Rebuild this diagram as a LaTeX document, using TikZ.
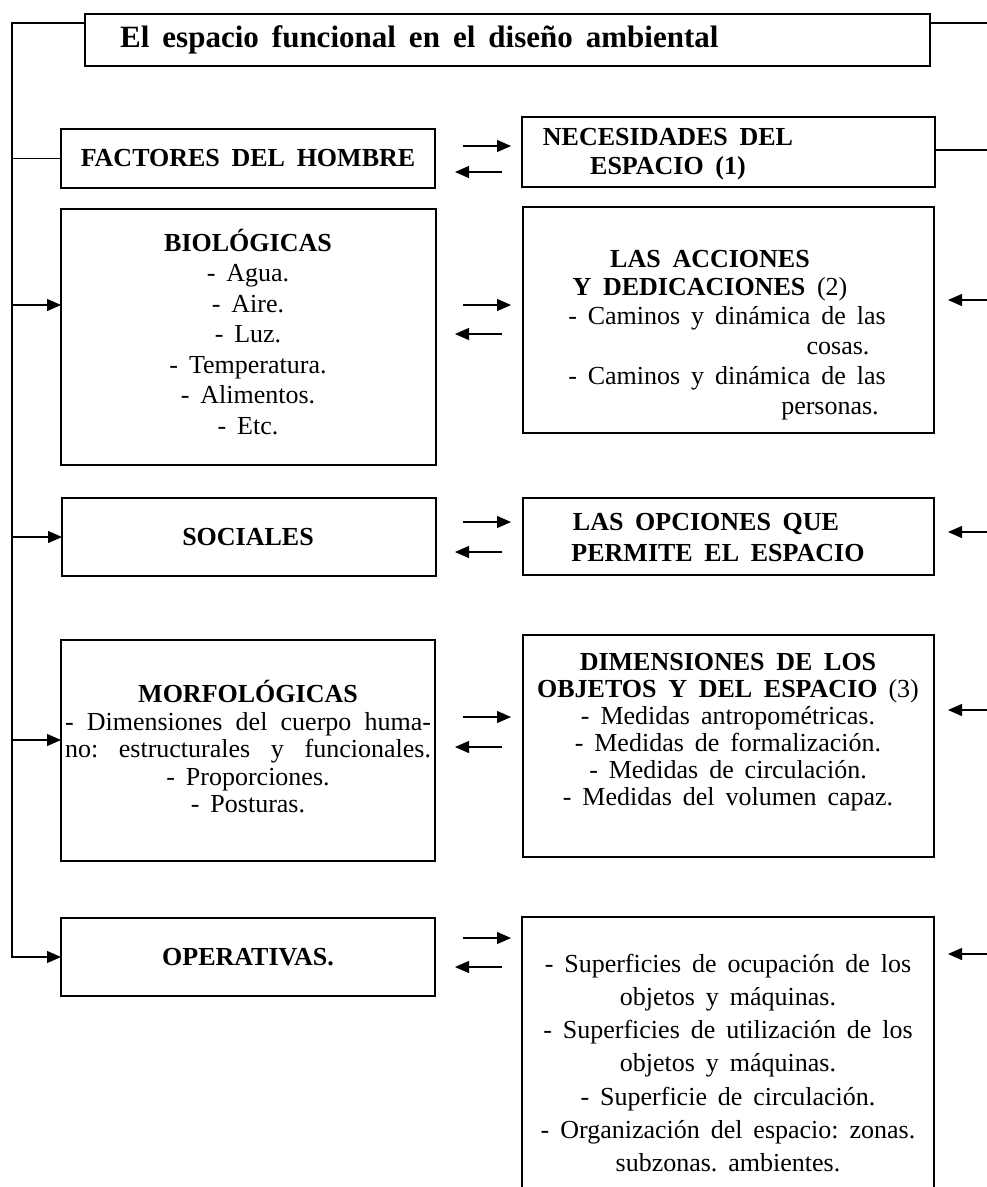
\documentclass[tikz,border=0pt]{standalone}
\usepackage{fontspec}
\setmainfont{Liberation Serif}
\usetikzlibrary{arrows.meta}
\newcommand\fb[1]{\fontsize{26}{#1}\selectfont\frenchspacing\spaceskip=0.42em plus 1em minus 0.1em\relax}
\newcommand\fh[1]{\fontsize{26}{#1}\bfseries\frenchspacing\spaceskip=0.45em plus 1em minus 0.1em\relax}
\newcommand\fhd{\bfseries\spaceskip=0.45em plus 1em minus 0.1em\relax}
\newcommand\ftitle{\fontsize{31}{34}\bfseries\spaceskip=0.42em plus 1em minus 0.1em\relax}
\begin{document}
\begin{tikzpicture}[x=1pt,y=-1pt,
  boxline/.style={draw, line width=1.4pt},
  box/.style={boxline, inner sep=0pt, outer sep=0pt, anchor=north west},
  conn/.style={line width=1.2pt},
  arr/.style={conn, -{Triangle[length=14pt,width=12pt]}},
  txt/.style={inner sep=0pt, align=center}]
\useasboundingbox (0,0) rectangle (987,1187);
% boxes
\node[box, minimum width=845pt, minimum height=52pt] (title) at (85,14) {};
\node[box, minimum width=374pt, minimum height=59pt] (fac) at (61,129) {};
\node[box, minimum width=413pt, minimum height=70pt] (nec) at (522,117) {};
\node[box, minimum width=375pt, minimum height=256pt] (bio) at (61,209) {};
\node[box, minimum width=411pt, minimum height=226pt] (acc) at (523,207) {};
\node[box, minimum width=374pt, minimum height=78pt] (soc) at (62,498) {};
\node[box, minimum width=411pt, minimum height=77pt] (opc) at (523,498) {};
\node[box, minimum width=374pt, minimum height=221pt] (morf) at (61,640) {};
\node[box, minimum width=411pt, minimum height=222pt] (dim) at (523,635) {};
\node[box, minimum width=374pt, minimum height=78pt] (oper) at (61,918) {};
\node[inner sep=0pt, outer sep=0pt, anchor=north west, minimum width=412pt, minimum height=280pt] (sup) at (522,917) {};
\draw[boxline] (sup.south west) |- (sup.north east) -- (sup.south east);
% texts
\node[txt, font=\ftitle, anchor=west] (titleT) at (120,40) {El espacio funcional en el diseño ambiental};
\node[txt, font=\fh{30}] (facT) at (248,158) {FACTORES DEL HOMBRE};
\node[txt, font=\fh{29}] (necT) at (668,154) {NECESIDADES DEL\\ESPACIO (1)};
\node[txt, font=\fb{30.5}] (bioT) at (248,332) {{\fhd BIOLÓGICAS}\\- Agua.\\- Aire.\\- Luz.\\- Temperatura.\\- Alimentos.\\- Etc.};
\node[txt, font=\fh{28}] (accH) at (710,276) {LAS ACCIONES\\Y DEDICACIONES {\mdseries (2)}};
\node[txt, font=\fb{30}] (accB) at (727,363) {- Caminos y dinámica de las\\\hspace*{222pt}cosas.\\- Caminos y dinámica de las\\\hspace*{206pt}personas.};
\node[txt, font=\fh{30}] (socT) at (248,537) {SOCIALES};
\node[txt, font=\fh{31}] (opcT) at (718,538) {LAS OPCIONES QUE\hspace*{24pt}\\PERMITE EL ESPACIO};
\node[txt, font=\fb{27.5}] (morfT) at (248,747) {{\fhd MORFOLÓGICAS}\\\makebox[366pt][s]{- Dimensiones del cuerpo huma-}\\\makebox[366pt][s]{no: estructurales y funcionales.}\\- Proporciones.\\- Posturas.};
\node[txt, font=\fb{27}] (dimT) at (728,732) {{\fhd DIMENSIONES DE LOS}\\{\fhd OBJETOS Y DEL ESPACIO} (3)\\- Medidas antropométricas.\\- Medidas de formalización.\\- Medidas de circulación.\\- Medidas del volumen capaz.};
\node[txt, font=\fh{30}] (operT) at (248,957) {OPERATIVAS.};
\node[txt, font=\fb{33.3}] (supT) at (728,1063) {- Superficies de ocupación de los\\objetos y máquinas.\\- Superficies de utilización de los\\objetos y máquinas.\\- Superficie de circulación.\\- Organización del espacio: zonas.\\subzonas. ambientes.};
% left spine
\coordinate (sTop) at (12,23);
\coordinate (sBio) at (12,305);
\coordinate (sMorf) at (12,740);
\draw[arr] (title.west |- sTop) -- (sTop) |- (oper.west);
\draw[conn] (fac.west) -- (fac.west -| sTop);
\draw[arr] (sBio) -- (sBio -| bio.west);
\draw[arr] (soc.west -| sTop) -- (soc.west);
\draw[arr] (sMorf) -- (sMorf -| morf.west);
% right side
\coordinate (eTop) at (987,23);
\coordinate (eNec) at (987,150);
\draw[conn] (title.east |- eTop) -- (eTop);
\draw[conn] (nec.east |- eNec) -- (eNec);
\coordinate (eAcc) at (987,300);
\coordinate (eAccT) at (948,300);
\coordinate (eOpc) at (987,532);
\coordinate (eOpcT) at (948,532);
\coordinate (eDim) at (987,710);
\coordinate (eDimT) at (948,710);
\coordinate (eSup) at (987,954);
\coordinate (eSupT) at (948,954);
\draw[arr] (eAcc) -- (eAccT);
\draw[arr] (eOpc) -- (eOpcT);
\draw[arr] (eDim) -- (eDimT);
\draw[arr] (eSup) -- (eSupT);
% between arrows
\foreach \n/\ya/\yb in {1/146/172, 2/305/334, 3/522/552, 4/717/747, 5/938/967}{
  \coordinate (ra\n) at (463,\ya);
  \coordinate (rb\n) at (511,\ya);
  \coordinate (la\n) at (502,\yb);
  \coordinate (lb\n) at (455,\yb);
  \draw[arr] (ra\n) -- (rb\n);
  \draw[arr] (la\n) -- (lb\n);
}
\end{tikzpicture}
\end{document}
